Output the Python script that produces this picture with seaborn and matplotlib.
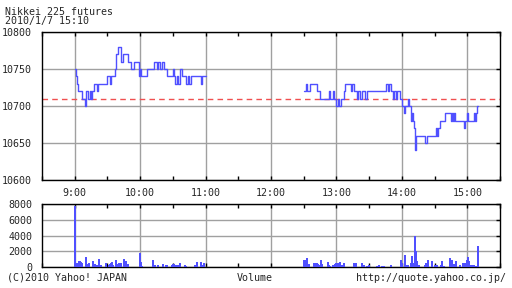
import numpy as np
import pandas as pd
import matplotlib
matplotlib.use("Agg")
import matplotlib.pyplot as plt
import seaborn as sns

# ---- data (minutes after 9:00) ----
am_min = [0, 1, 2, 3, 7, 9, 10, 12, 14, 15, 16, 18, 20, 21, 30, 32, 33, 37, 38, 40, 42, 44,
          49, 52, 54, 59, 60, 61, 66, 73, 75, 76, 78, 80, 82, 85, 90, 91, 92, 94, 95, 97,
          98, 102, 104, 105, 107, 116, 117, 120]
am_price = [10750, 10740, 10730, 10720, 10710, 10700, 10720, 10710, 10720, 10710, 10720,
            10730, 10720, 10730, 10740, 10730, 10740, 10750, 10770, 10780, 10760, 10770,
            10760, 10750, 10760, 10740, 10750, 10740, 10750, 10760, 10750, 10760, 10750,
            10760, 10750, 10740, 10750, 10740, 10730, 10740, 10730, 10750, 10740, 10730,
            10740, 10730, 10740, 10730, 10740, 10740]
pm_min = [210, 212, 213, 216, 222, 225, 233, 234, 237, 238, 240, 241, 242, 244, 247, 248,
          253, 254, 256, 259, 260, 262, 263, 266, 268, 285, 287, 288, 290, 292, 293, 295,
          296, 298, 300, 302, 303, 306, 307, 308, 309, 310, 311, 312, 313, 321, 323, 331,
          332, 333, 335, 340, 345, 346, 347, 348, 349, 357, 358, 360, 361, 366, 367, 368,
          369, 370]
pm_price = [10720, 10730, 10720, 10730, 10720, 10710, 10720, 10710, 10720, 10710, 10700,
            10710, 10700, 10710, 10720, 10730, 10720, 10730, 10720, 10710, 10720, 10710,
            10720, 10710, 10720, 10730, 10720, 10730, 10720, 10710, 10720, 10710, 10720,
            10710, 10700, 10690, 10700, 10710, 10700, 10680, 10690, 10680, 10670, 10640,
            10660, 10650, 10660, 10670, 10660, 10670, 10680, 10690, 10680, 10690, 10680,
            10690, 10680, 10670, 10680, 10690, 10680, 10690, 10680, 10690, 10700, 10700]
prev_close = 10710

vol_min = [0, 1, 2, 3, 4, 5, 6, 7, 10, 11, 13, 17, 19, 20, 22, 24, 29, 31, 32, 33, 34, 35,
           38, 39, 41, 42, 45, 46, 47, 48, 49, 60, 61, 62, 72, 74, 76, 81, 84, 85, 89, 90,
           91, 93, 95, 97, 101, 102, 110, 112, 116, 117, 119,
           210, 211, 213, 215, 219, 220, 221, 222, 223, 224, 226, 227, 232, 233, 234, 237,
           238, 239, 240, 241, 243, 245, 247, 256, 258, 263, 265, 268, 270, 277, 279, 282,
           284, 290, 299, 300, 303, 304, 306, 308, 309, 310, 311, 312, 313, 314, 316, 321,
           322, 324, 328, 330, 332, 336, 337, 339, 344, 346, 348, 350, 353, 356, 357, 359,
           360, 361, 362, 363, 364, 366, 368, 370]
vol_val = [7800, 470, 380, 550, 760, 760, 680, 470, 1270, 420, 500, 760, 340, 250, 1020,
           250, 470, 250, 380, 550, 630, 250, 890, 340, 550, 550, 1020, 250, 760, 380,
           380, 1780, 680, 170, 890, 250, 250, 380, 250, 250, 210, 340, 380, 250, 210,
           470, 210, 170, 210, 630, 630, 210, 470,
           890, 890, 1140, 340, 470, 550, 470, 550, 380, 250, 890, 340, 630, 250, 170, 250,
           250, 340, 550, 470, 630, 250, 470, 510, 510, 510, 250, 170, 250, 170, 250, 130,
           170, 250, 890, 470, 1520, 250, 250, 470, 1400, 470, 470, 3980, 2030, 760, 250,
           250, 550, 890, 760, 250, 250, 250, 760, 170, 1100, 890, 340, 760, 250, 470, 470,
           550, 890, 1270, 760, 250, 250, 250, 170, 2660]

x_ticks = [9, 10, 11, 12, 13, 14, 15]
x_labels = ["9:00", "10:00", "11:00", "12:00", "13:00", "14:00", "15:00"]
p_ticks = [10600, 10650, 10700, 10750, 10800]
v_ticks = [0, 2000, 4000, 6000, 8000]

price = pd.DataFrame({
    "hour": [9 + m / 60 for m in am_min + pm_min],
    "price": am_price + pm_price,
    "session": ["am"] * len(am_min) + ["pm"] * len(pm_min),
})
vol = pd.DataFrame({"hour": [9 + m / 60 for m in vol_min], "volume": vol_val})

sns.set_style("white")
plt.rcParams["font.family"] = ["DejaVu Sans Mono"]
FS = 7.2
BLUE = "#5050ff"
GRID = "#a0a0a0"

fig = plt.figure(figsize=(5.12, 2.88), dpi=100)
ax = fig.add_axes([42 / 512, 1 - 180 / 288, 458 / 512, 148 / 288])
axv = fig.add_axes([42 / 512, 1 - 267 / 288, 458 / 512, 63 / 288])

sns.lineplot(data=price, x="hour", y="price", units="session", estimator=None,
             drawstyle="steps-post", color=BLUE, linewidth=1.0, ax=ax, zorder=3)
ax.axhline(prev_close, color="#f05050", linewidth=1.0, linestyle=(0, (4, 3)), zorder=2)

axv.vlines(vol["hour"], 0, vol["volume"], color=BLUE, linewidth=1.1, zorder=3,
           antialiased=False)

for a, yt in ((ax, p_ticks), (axv, v_ticks)):
    a.set_xlim(8.5, 15.5)
    a.set_ylim(yt[0], yt[-1])
    a.set_xticks(x_ticks)
    a.set_xticks(np.arange(8.5, 15.6, 0.5), minor=True)
    a.set_yticks(yt)
    a.set_yticklabels([str(v) for v in yt], fontsize=FS)
    a.grid(True, which="major", color=GRID, linewidth=1.0, zorder=0)
    a.tick_params(axis="x", which="both", direction="in", length=3, top=True, bottom=True,
                  color="black", width=1)
    a.tick_params(axis="y", which="both", direction="in", length=3, left=False, right=True,
                  color="black", width=1, pad=7)
    for s in a.spines.values():
        s.set_color("black")
        s.set_linewidth(1.0)
    a.set_xlabel("")
    a.set_ylabel("")
    a.set_facecolor("white")

ax.set_xticklabels(x_labels, fontsize=FS)
ax.tick_params(axis="x", pad=6)
axv.set_xticklabels([])

fig.text(5 / 512, 1 - 15 / 288, "Nikkei 225 futures", fontsize=FS, ha="left", va="baseline")
fig.text(5 / 512, 1 - 24 / 288, "2010/1/7 15:10", fontsize=FS, ha="left", va="baseline")
fig.text(7 / 512, 1 - 281 / 288, "(C)2010 Yahoo! JAPAN", fontsize=FS, ha="left", va="baseline")
fig.text(255 / 512, 1 - 281 / 288, "Volume", fontsize=FS, ha="center", va="baseline")
fig.text(506 / 512, 1 - 281 / 288, "http://quote.yahoo.co.jp/", fontsize=FS, ha="right",
         va="baseline")

fig.savefig("out.png", dpi=100, facecolor="white")
